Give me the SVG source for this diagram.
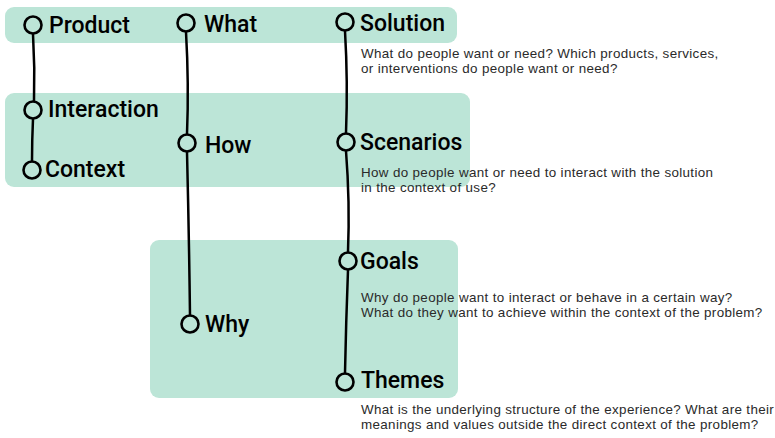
<svg xmlns="http://www.w3.org/2000/svg" width="775" height="438" viewBox="0 0 775 438">
<style>
.band{fill:#bce5d7;}
.node circle{fill:none;stroke:#000;stroke-width:2.6;}
.title{font-family:Roboto,"DejaVu Sans",sans-serif;font-weight:500;font-size:23px;fill:#000;}
.desc{font-family:"Liberation Sans",Arial,sans-serif;font-size:13.4px;letter-spacing:0.35px;fill:#2a2a2a;}
.conn path{fill:none;stroke:#000;stroke-width:2.5;stroke-linecap:round;}
</style>
<rect width="775" height="438" fill="#fff"/>
<g id="bands">
<rect class="band" x="5" y="7" width="452" height="36" rx="9"/>
<rect class="band" x="5" y="93" width="465" height="94" rx="9"/>
<rect class="band" x="150" y="240" width="308" height="158" rx="9"/>
</g>
<g id="connectors" class="conn">
<path d="M33,34 Q35,68 34,101"/>
<path d="M33,119 Q32,140 32,161"/>
<path d="M186,32 Q189,84 187,134"/>
<path d="M187,152 Q189,234 190,315"/>
<path d="M345,31 Q348,82 346,133"/>
<path d="M346,151 Q350,202 348,252"/>
<path d="M348,270 Q346,322 345,373"/>
</g>
<g id="product" class="node"><circle cx="33" cy="25" r="8.5"/><text class="title" x="49" y="33">Product</text></g>
<g id="interaction" class="node"><circle cx="33" cy="110" r="8.5"/><text class="title" x="48" y="117">Interaction</text></g>
<g id="context" class="node"><circle cx="32" cy="170" r="8.5"/><text class="title" x="45" y="177">Context</text></g>
<g id="what" class="node"><circle cx="186" cy="23" r="8.5"/><text class="title" x="204" y="32">What</text></g>
<g id="how" class="node"><circle cx="187" cy="143" r="8.5"/><text class="title" x="205" y="153">How</text></g>
<g id="why" class="node"><circle cx="190" cy="324" r="8.5"/><text class="title" x="205" y="332">Why</text></g>
<g id="solution" class="node"><circle cx="345" cy="22" r="8.5"/><text class="title" x="360" y="31">Solution</text>
<text class="desc" x="361" y="58">What do people want or need? Which products, services,</text>
<text class="desc" x="361" y="73">or interventions do people want or need?</text></g>
<g id="scenarios" class="node"><circle cx="346" cy="142" r="8.5"/><text class="title" x="360" y="150">Scenarios</text>
<text class="desc" x="361" y="177">How do people want or need to interact with the solution</text>
<text class="desc" x="361" y="192">in the context of use?</text></g>
<g id="goals" class="node"><circle cx="348" cy="261" r="8.5"/><text class="title" x="360" y="269">Goals</text>
<text class="desc" x="361" y="302">Why do people want to interact or behave in a certain way?</text>
<text class="desc" x="361" y="317">What do they want to achieve within the context of the problem?</text></g>
<g id="themes" class="node"><circle cx="345" cy="382" r="8.5"/><text class="title" x="361" y="388">Themes</text>
<text class="desc" x="361" y="414">What is the underlying structure of the experience? What are their</text>
<text class="desc" x="361" y="429">meanings and values outside the direct context of the problem?</text></g>
</svg>
